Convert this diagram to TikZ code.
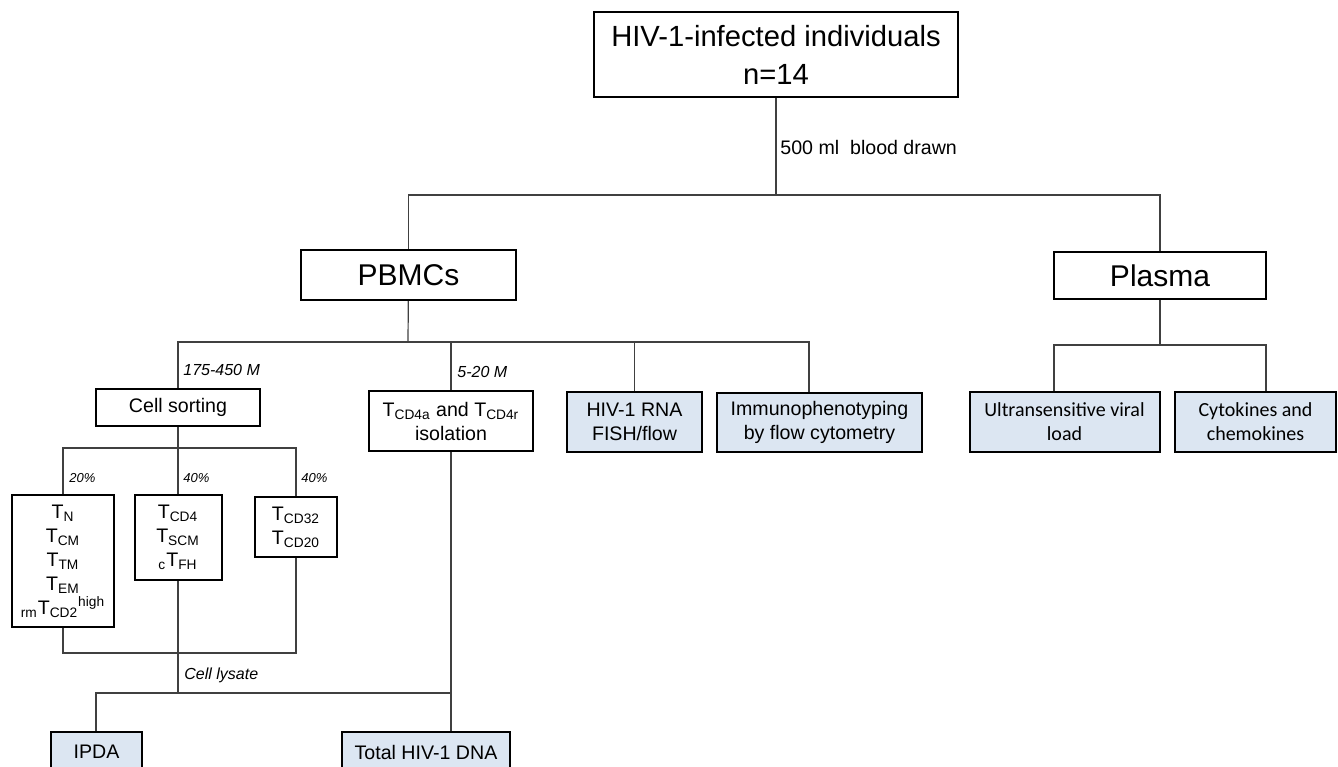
\documentclass[tikz,border=0pt]{standalone}
\usepackage{fontspec}
\setmainfont{Liberation Sans}
\newfontfamily\calibfont{Carlito}
\usepackage{tikz}

\definecolor{paleblue}{RGB}{220,230,242}

\begin{document}
\begin{tikzpicture}[
    x=0.5pt, y=-0.5pt,
    box/.style={draw=black, line width=1pt, align=center, inner sep=0pt,
      font=\fontsize{9.8}{12}\selectfont},
    result/.style={box, fill=paleblue},
    link/.style={draw=black!75, line width=0.6pt},
    note/.style={anchor=west, inner sep=0pt, font=\fontsize{8}{10}\selectfont\itshape},
    pct/.style={note, font=\fontsize{6.5}{8}\selectfont\itshape}
  ]

  \useasboundingbox (0,0) rectangle (1338,766);
  \clip (0,0) rectangle (1338,766);

  % Cohort
  \node[box, minimum width=182pt, minimum height=42.5pt,
    font=\fontsize{14.6}{19}\selectfont] (cohort) at (776,54.5)
    {HIV-1-infected individuals\\n=14};
  \node[note, font=\fontsize{9.8}{11}\selectfont] (drawn) at (780,147) {500 ml\ \ blood drawn};

  % Samples
  \node[box, minimum width=107.5pt, minimum height=25pt,
    font=\fontsize{15}{18}\selectfont] (pbmc) at (408.5,275) {PBMCs};
  \node[box, minimum width=106pt, minimum height=23.5pt,
    font=\fontsize{15}{18}\selectfont] (plasma) at (1160,275.5) {Plasma};

  % PBMC assays
  \node[box, minimum width=82pt, minimum height=18.5pt] (sorting) at (178,407.5) {Cell sorting};
  \node[box, minimum width=82pt, minimum height=30pt] (isolation) at (451,421)
    {T\textsubscript{CD4a} and T\textsubscript{CD4r}\\isolation};
  \node[result, minimum width=67.5pt, minimum height=30pt] (rna) at (634.5,422) {HIV-1 RNA\\FISH/flow};
  \node[result, minimum width=102.5pt, minimum height=29.5pt] (immuno) at (819.5,422.5)
    {Immunophenotyping\\by flow cytometry};
  \node[note] (cellsn) at (183,370) {175-450 M};
  \node[note] (isosn) at (457,372) {5-20 M};

  % Plasma assays
  \node[result, minimum width=95pt, minimum height=30pt,
    font=\fontsize{10}{12}\calibfont] (viral) at (1064.5,422) {Ultransensitive viral\\load};
  \node[result, minimum width=80.5pt, minimum height=30pt,
    font=\fontsize{10}{12}\calibfont] (cyto) at (1255.5,422) {Cytokines and\\chemokines};

  % Sorted fractions
  \node[box, minimum width=51pt, minimum height=66pt] (naive) at (63,561)
    {T\textsubscript{N}\\T\textsubscript{CM}\\T\textsubscript{TM}\\T\textsubscript{EM}\\
     \textsubscript{rm}T\textsubscript{CD2}\textsuperscript{high}};
  \node[box, minimum width=43.5pt, minimum height=42.5pt] (cd4) at (178,537.5)
    {T\textsubscript{CD4}\\T\textsubscript{SCM}\\\textsubscript{c}T\textsubscript{FH}};
  \node[box, minimum width=41pt, minimum height=30pt] (bcells) at (296,527)
    {T\textsubscript{CD32}\\T\textsubscript{CD20}};
  \node[pct] (pctA) at (69,478) {20\%};
  \node[pct] (pctB) at (183,478) {40\%};
  \node[pct] (pctC) at (301,478) {40\%};

  % DNA assays
  \node[result, minimum width=45.5pt, minimum height=20pt] (ipda) at (96.5,752) {IPDA};
  \node[result, minimum width=84pt, minimum height=20pt] (total) at (426,752) {Total HIV-1 DNA};
  \node[note] (lysate) at (184,675) {Cell lysate};

  % Connections Cohort -> Samples
  \coordinate (split) at (776,195);
  \draw[link] (cohort) -- (split);
  \draw[link] (pbmc) |- (split) -| (plasma);

  % Connections PBMCs -> assays
  \coordinate (pbus) at (408,342);
  \coordinate (pbusR) at (809,342);
  \draw[link] (pbmc) -- (pbus);
  \draw[link] (sorting) |- (pbus) -- (pbusR) -- (immuno.north -| pbusR);
  \foreach \n in {isolation,rna}
    \draw[link] (\n) -- (\n |- pbus);

  % Connections Plasma -> assays
  \coordinate (lbus) at (1054,345);
  \coordinate (rbus) at (1266,345);
  \draw[link] (plasma) -- (plasma |- lbus);
  \draw[link] (viral.north -| lbus) -- (lbus) -- (rbus) -- (cyto.north -| rbus);

  % Connections Sorting -> fractions
  \coordinate (sbus) at (178,448);
  \draw[link] (sorting) -- (sbus);
  \draw[link] (naive) |- (sbus) -| (bcells);
  \draw[link] (cd4) -- (cd4 |- sbus);

  % Connections fractions -> DNA assays
  \coordinate (lysbus) at (178,653);
  \coordinate (abus) at (178,693);
  \coordinate (dbus) at (451,693);
  \draw[link] (naive) |- (lysbus) -| (bcells);
  \draw[link] (cd4) -- (abus);
  \draw[link] (ipda.north -| 96,0) |- (dbus);
  \draw[link] (isolation) -- (isolation |- total.north);

\end{tikzpicture}
\end{document}
